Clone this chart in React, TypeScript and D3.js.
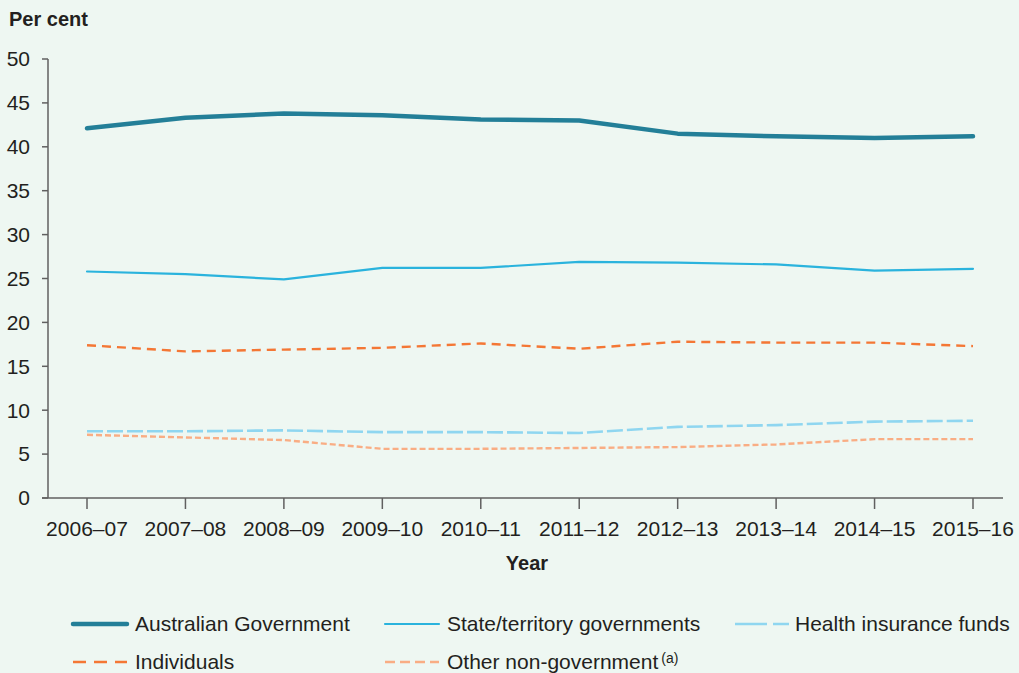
import React from "react";
import * as d3 from "d3";

const years = ["2006–07","2007–08","2008–09","2009–10","2010–11","2011–12","2012–13","2013–14","2014–15","2015–16"];
const australianGov = [42.1, 43.3, 43.8, 43.6, 43.1, 43.0, 41.5, 41.2, 41.0, 41.2];
const stateGov = [25.8, 25.5, 24.9, 26.2, 26.2, 26.9, 26.8, 26.6, 25.9, 26.1];
const individuals = [17.4, 16.7, 16.9, 17.1, 17.6, 17.0, 17.8, 17.7, 17.7, 17.3];
const healthFunds = [7.6, 7.6, 7.7, 7.5, 7.5, 7.4, 8.1, 8.3, 8.7, 8.8];
const otherNonGov = [7.2, 6.9, 6.6, 5.6, 5.6, 5.7, 5.8, 6.1, 6.7, 6.7];
const yTicks = [0, 5, 10, 15, 20, 25, 30, 35, 40, 45, 50];

const series = [
  { name: "Australian Government", values: australianGov, color: "#237f98", width: 4.5, dash: "", legendDash: "" },
  { name: "State/territory governments", values: stateGov, color: "#2ab3dd", width: 2.2, dash: "", legendDash: "" },
  { name: "Health insurance funds", values: healthFunds, color: "#8fd6f0", width: 2.6, dash: "16,4", legendDash: "32,6,16,100" },
  { name: "Individuals", values: individuals, color: "#f47735", width: 2.4, dash: "9,6", legendDash: "13,8" },
  { name: "Other non-government", values: otherNonGov, color: "#f9ad84", width: 2.4, dash: "6,3", legendDash: "10,5" },
];

const FONT = "'Liberation Sans', Arial, sans-serif";

export default function App() {
  const W = 1019, H = 673;
  const x = d3.scalePoint<string>().domain(years).range([87, 973]);
  const y = d3.scaleLinear().domain([0, 50]).range([498, 59]);
  const line = d3.line<number>()
    .x((_, i) => x(years[i]) as number)
    .y((d) => y(d))
    .curve(d3.curveLinear);

  const legend = [
    { s: series[0], lx: 73, tx: 135, ly: 624 },
    { s: series[1], lx: 385, tx: 447, ly: 624 },
    { s: series[2], lx: 735, tx: 795, ly: 624 },
    { s: series[3], lx: 73, tx: 135, ly: 662 },
    { s: series[4], lx: 385, tx: 447, ly: 662 },
  ];

  return (
    <svg width={W} height={H} style={{ position: "absolute", left: 0, top: 0, display: "block" }} fontFamily={FONT}>
      <rect x={0} y={0} width={W} height={H} fill="#eef7f2" />
      <text x={9} y={26} fontSize={20} fontWeight="bold" fill="#231f20">Per cent</text>
      {/* y axis */}
      <line x1={48} x2={48} y1={y(50)} y2={y(0)} stroke="#606060" strokeWidth={1.5} />
      {yTicks.map((t) => (
        <g key={t}>
          <line x1={42} x2={48} y1={y(t)} y2={y(t)} stroke="#606060" strokeWidth={1.5} />
          <text x={30} y={y(t)} dy="0.35em" textAnchor="end" fontSize={21} fill="#231f20">{t}</text>
        </g>
      ))}
      {/* x axis */}
      <line x1={42} x2={1003} y1={y(0)} y2={y(0)} stroke="#606060" strokeWidth={1.5} />
      {years.map((yr) => (
        <g key={yr}>
          <line x1={x(yr)} x2={x(yr)} y1={y(0)} y2={y(0) + 11} stroke="#606060" strokeWidth={1.5} />
          <text x={x(yr)} y={536} textAnchor="middle" fontSize={21} fill="#231f20">{yr}</text>
        </g>
      ))}
      <text x={527} y={570} textAnchor="middle" fontSize={20} fontWeight="bold" fill="#231f20">Year</text>
      {/* lines */}
      {series.slice().reverse().map((s) => (
        <path key={s.name} d={line(s.values) || ""} fill="none" stroke={s.color} strokeWidth={s.width}
          strokeDasharray={s.dash || undefined} strokeLinecap={s.dash ? "butt" : "round"} strokeLinejoin="round" />
      ))}
      {/* legend */}
      {legend.map(({ s, lx, tx, ly }) => (
        <g key={s.name}>
          <line x1={lx} x2={lx + 54} y1={ly} y2={ly} stroke={s.color} strokeWidth={s.width}
            strokeDasharray={s.legendDash || undefined} strokeLinecap={s.legendDash ? "butt" : "round"} />
          <text x={tx} y={ly} dy="0.35em" fontSize={21} fill="#231f20">
            {s.name}
            {s.name === "Other non-government" ? (
              <tspan dx={3} dy={-6} fontSize={14}>(a)</tspan>
            ) : null}
          </text>
        </g>
      ))}
    </svg>
  );
}
